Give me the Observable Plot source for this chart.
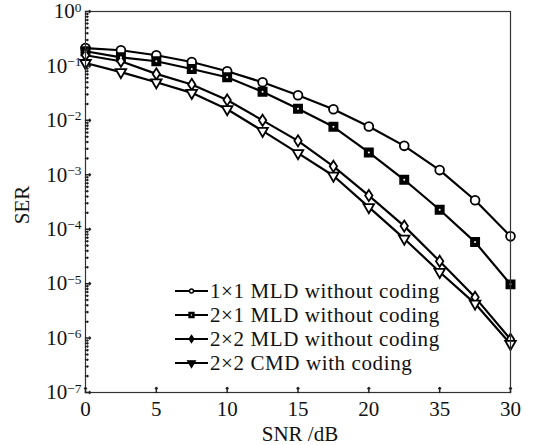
<!DOCTYPE html>
<html>
<head>
<meta charset="utf-8">
<script src="https://cdn.jsdelivr.net/npm/d3@7"></script>
<script src="https://cdn.jsdelivr.net/npm/@observablehq/plot@0.6"></script>
<style>
  html, body { margin: 0; padding: 0; background: #fff; }
  #chart { width: 540px; height: 445px; }
</style>
</head>
<body>
<div id="chart"></div>
<script>
const snr = [0, 2.5, 5, 7.5, 10, 12.5, 15, 17.5, 20, 22.5, 25, 27.5, 30];
const seriesNames = [
  "1×1 MLD without coding",
  "2×1 MLD without coding",
  "2×2 MLD without coding",
  "2×2 CMD with coding"
];
const ser11mld = [0.213, 0.194, 0.157, 0.118, 0.080, 0.050, 0.029, 0.016, 0.0077, 0.0034, 0.00122, 3.4e-4, 7.4e-5];
const ser21mld = [0.186, 0.144, 0.122, 0.088, 0.062, 0.0335, 0.0164, 0.0076, 0.00257, 8.1e-4, 2.28e-4, 5.8e-5, 9.7e-6];
const ser22mld = [0.157, 0.122, 0.0714, 0.0457, 0.0236, 0.0100, 0.0042, 0.00143, 4.15e-4, 1.14e-4, 2.58e-5, 5.6e-6, 9.5e-7];
const ser22cmd = [0.113, 0.077, 0.050, 0.032, 0.016, 0.0064, 0.0025, 9.6e-4, 2.54e-4, 6.7e-5, 1.64e-5, 4.3e-6, 7.8e-7];
const xTicks = [0, 5, 10, 15, 20, 25, 30];
const xTickLabels = ["0", "5", "10", "15", "20", "35", "30"];
const yExponents = [0, -1, -2, -3, -4, -5, -6, -7];

const allSeries = [ser11mld, ser21mld, ser22mld, ser22cmd];
const data = [];
allSeries.forEach((vals, si) => {
  vals.forEach((v, i) => data.push({snr: snr[i], ser: v, series: seriesNames[si]}));
});
const yTicks = yExponents.map(e => Math.pow(10, e));
const yMinor = [];
for (let e = -7; e < 0; e++) for (let m = 2; m <= 9; m++) yMinor.push(m * Math.pow(10, e));

const triangleDown = {
  draw(context, size) {
    const y = -Math.sqrt(size / (Math.sqrt(3) * 3));
    context.moveTo(0, -y * 2);
    context.lineTo(-Math.sqrt(3) * y, y);
    context.lineTo(Math.sqrt(3) * y, y);
    context.closePath();
  }
};
const diamondTall = {
  draw(context, size) {
    const r = Math.sqrt(size / 2.2);
    context.moveTo(0, -r * 1.3);
    context.lineTo(r * 0.85, 0);
    context.lineTo(0, r * 1.3);
    context.lineTo(-r * 0.85, 0);
    context.closePath();
  }
};
const styles = [
  {symbol: "circle", fill: "white", r: 4.4},
  {symbol: "square", fill: "black", r: 4.6},
  {symbol: diamondTall, fill: "white", r: 3.6},
  {symbol: triangleDown, fill: "white", r: 3.9}
];

const FONT = "'Liberation Serif', 'Times New Roman', serif";
const bySeries = name => data.filter(d => d.series === name);

const marks = [
  Plot.line(data, {x: "snr", y: "ser", z: "series", stroke: "black", strokeWidth: 2.2}),
  ...seriesNames.map((name, i) => Plot.dot(bySeries(name), {
    x: "snr", y: "ser", symbol: styles[i].symbol, r: styles[i].r,
    fill: styles[i].fill, stroke: "black", strokeWidth: 1.8
  })),
  Plot.dot(bySeries(seriesNames[1]), {x: "snr", y: "ser", r: 1, fill: "white"}),
  Plot.frame({stroke: "#333", strokeWidth: 1.2}),
  Plot.vector(yTicks, {y: d => d, frameAnchor: "left", length: 5, rotate: 90, anchor: "start", stroke: "#222"}),
  Plot.vector(yMinor, {y: d => d, frameAnchor: "left", length: 2.5, rotate: 90, anchor: "start", stroke: "#222"}),
  Plot.vector(xTicks, {x: d => d, frameAnchor: "bottom", length: 5, rotate: 0, anchor: "start", stroke: "#222"}),
  Plot.axisX(xTicks, {tickSize: 0, tickPadding: 9, fontSize: 21, fontFamily: FONT, fill: "#111",
    tickFormat: d => xTickLabels[xTicks.indexOf(d)], label: null}),
  Plot.axisY(yTicks, {tickSize: 0, tickPadding: 4, fontSize: 21, fontFamily: FONT, fill: "#111",
    tickFormat: d => "10|" + Math.round(Math.log10(d)), label: null})
];

const chart = Plot.plot({
  width: 540,
  height: 445,
  marginLeft: 85,
  marginRight: 30,
  marginTop: 11,
  marginBottom: 53,
  style: {background: "white", fontFamily: FONT, fontSize: "21px"},
  x: {domain: [0, 30], label: null},
  y: {type: "log", domain: [1e-7, 1], label: null},
  marks
});

const svg = d3.select(chart);
// superscripts for y tick labels
svg.selectAll("g[aria-label='y-axis tick label'] text").each(function() {
  const t = d3.select(this).text();
  if (t.indexOf("|") < 0) return;
  const [base, exp] = t.split("|");
  const el = d3.select(this);
  el.text(base);
  el.append("tspan").attr("dy", "-0.5em").attr("font-size", "0.64em")
    .text(exp === "0" ? "0" : "−" + exp.replace("-", ""));
});

// axis titles
svg.append("text").attr("x", 300).attr("y", 441).attr("text-anchor", "middle")
  .attr("font-family", FONT).attr("font-size", 21).attr("fill", "#111").text("SNR /dB");
svg.append("text").attr("transform", "translate(29,205) rotate(-90)").attr("text-anchor", "middle")
  .attr("font-family", FONT).attr("font-size", 21).attr("fill", "#111").text("SER");

// legend
const legSymbols = [d3.symbolCircle, d3.symbolSquare, diamondTall, triangleDown];
const legSizes = [12, 24, 16, 24];
const legFills = ["white", "black", "black", "black"];
const leg = svg.append("g").attr("transform", "translate(175,291)");
seriesNames.forEach((name, i) => {
  const g = leg.append("g").attr("transform", `translate(0,${i * 24})`);
  g.append("line").attr("x1", 0).attr("x2", 33).attr("y1", 0).attr("y2", 0)
    .attr("stroke", "black").attr("stroke-width", 2.2);
  g.append("path").attr("transform", "translate(16.5,0)")
    .attr("d", d3.symbol(legSymbols[i], legSizes[i])())
    .attr("fill", legFills[i])
    .attr("stroke", "black").attr("stroke-width", 1.4);
  if (i === 1) g.append("circle").attr("cx", 16.5).attr("cy", 0).attr("r", 0.7).attr("fill", "white");
  g.append("text").attr("x", 35).attr("y", 0).attr("dy", "0.35em").attr("text-anchor", "start")
    .attr("font-family", FONT).attr("font-size", 21).attr("letter-spacing", "0.6px")
    .attr("fill", "#111").text(name);
});

document.getElementById("chart").appendChild(chart);
</script>
</body>
</html>
